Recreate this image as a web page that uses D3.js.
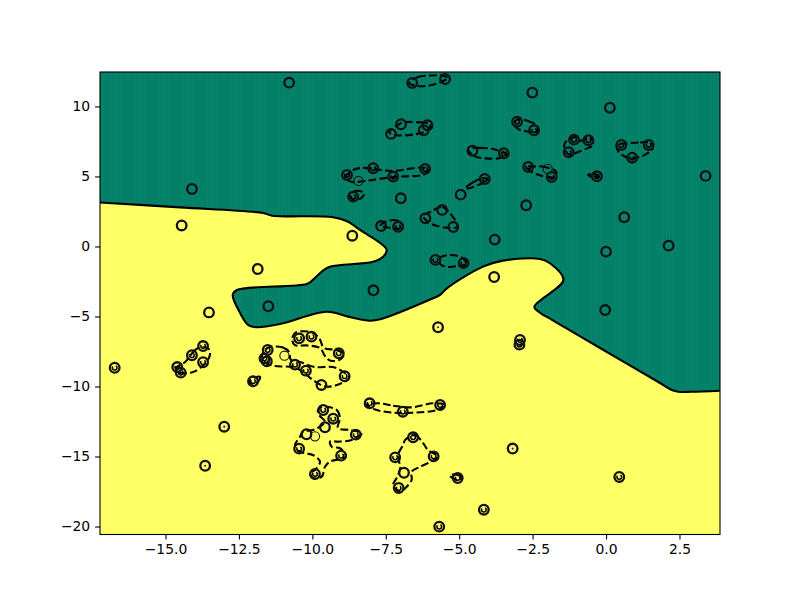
<!DOCTYPE html>
<html>
<head>
<meta charset="utf-8">
<script src="https://cdn.jsdelivr.net/npm/d3@7/dist/d3.min.js"></script>
<style>
    body { margin: 0; background: #fff; }
    text { font-family: "DejaVu Sans", sans-serif; }
</style>
</head>
<body>
<script>
// Axis ticks and limits
var xTicks = [-15, -12.5, -10, -7.5, -5, -2.5, 0, 2.5];
var xTickLabels = ["−15.0", "−12.5", "−10.0", "−7.5", "−5.0", "−2.5", "0.0", "2.5"];
var yTicks = [-20, -15, -10, -5, 0, 5, 10];
var yTickLabels = ["−20", "−15", "−10", "−5", "0", "5", "10"];
var xLimits = [-17.23, 3.88];
var yLimits = [-20.57, 12.46];

// Sample points with a heavy ring
var points = [
    [-10.79, 11.70], [-6.60, 11.68], [-5.48, 11.96], [-6.98, 8.73], [-6.08, 8.66], [-6.21, 8.30],
    [-7.32, 8.04], [-4.55, 6.84], [-8.82, 5.11], [-7.93, 5.59], [-7.25, 4.99], [-6.16, 5.54],
    [-4.13, 4.82], [-4.95, 3.70], [-8.61, 3.56], [-6.99, 3.44], [-5.58, 2.61], [-6.15, 2.01],
    [-5.20, 1.39], [-7.66, 1.46], [-7.08, 1.41], [-8.64, 0.77], [-2.51, 10.99], [0.13, 9.91],
    [-3.03, 8.91], [-2.45, 8.30], [-1.09, 7.63], [-0.60, 7.59], [-1.27, 6.73], [0.52, 7.25],
    [1.45, 7.25], [0.89, 6.34], [-3.48, 6.66], [-2.65, 5.68], [-1.85, 4.96], [-0.31, 5.01],
    [3.39, 5.04], [-2.72, 2.94], [0.62, 2.09], [-3.79, 0.49], [2.13, 0.06], [0.00, -0.37],
    [-14.10, 4.11], [-14.45, 1.50], [-5.81, -0.96], [-4.85, -1.18], [-11.86, -1.61], [-3.81, -2.18],
    [-7.92, -3.13], [-11.50, -4.27], [-0.03, -4.54], [-13.52, -4.71], [-5.72, -5.77], [-2.93, -6.68],
    [-2.95, -7.01], [-16.73, -8.66], [-14.60, -8.61], [-14.48, -9.01], [-14.10, -7.77], [-13.72, -7.11],
    [-13.72, -8.27], [-13.00, -12.87], [-13.65, -15.66], [-12.02, -9.63], [-11.52, -7.39], [-11.63, -7.99],
    [-11.55, -8.20], [-10.45, -6.56], [-10.03, -6.44], [-9.10, -7.63], [-10.59, -8.44], [-10.22, -8.87],
    [-8.90, -9.27], [-9.69, -9.89], [-9.63, -11.68], [-9.29, -12.30], [-9.57, -12.91], [-10.20, -13.41],
    [-8.52, -13.44], [-10.45, -14.44], [-9.02, -14.94], [-9.91, -16.25], [-8.05, -11.20], [-6.92, -11.80],
    [-5.65, -11.32], [-6.57, -13.63], [-7.18, -15.06], [-5.87, -14.99], [-6.88, -16.16], [-7.06, -17.25],
    [-5.05, -16.54], [-4.16, -18.80], [-5.68, -20.01], [-3.18, -14.43], [0.45, -16.46]
];

// Sample points with a light ring
var lightPoints = [[-8.43, 4.68], [-1.99, 5.54], [-10.95, -7.80], [-9.91, -13.56]];

// Points with a very small margin loop round them
var coreLoopPoints = [
    [-8.82, 5.11], [-7.93, 5.59], [-7.25, 4.99], [-6.16, 5.54], [-4.13, 4.82], [-8.61, 3.56],
    [-7.08, 1.41], [-3.03, 8.91], [-2.45, 8.30], [-1.09, 7.63], [-0.60, 7.59], [-1.27, 6.73],
    [0.52, 7.25], [1.45, 7.25], [0.89, 6.34], [-3.48, 6.66], [-2.65, 5.68], [-1.85, 4.96],
    [-0.31, 5.01], [-5.81, -0.96], [-4.85, -1.18], [-2.93, -6.68], [-2.95, -7.01], [-16.73, -8.66],
    [-14.60, -8.61], [-14.48, -9.01], [-14.10, -7.77], [-13.72, -7.11], [-13.72, -8.27], [-12.02, -9.63],
    [-11.52, -7.39], [-11.63, -7.99], [-11.55, -8.20], [-10.45, -6.56], [-10.03, -6.44], [-9.10, -7.63],
    [-10.59, -8.44], [-10.22, -8.87], [-8.90, -9.27], [-9.63, -11.68], [-9.29, -12.30], [-8.52, -13.44],
    [-10.45, -14.44], [-9.02, -14.94], [-9.91, -16.25], [-8.05, -11.20], [-6.92, -11.80], [-5.65, -11.32],
    [-6.57, -13.63], [-7.18, -15.06], [-5.87, -14.99], [-7.06, -17.25], [-5.05, -16.54], [-4.16, -18.80],
    [-5.68, -20.01], [0.45, -16.46]
];

// Points with only a dot left inside
var coreDotPoints = [[-13.00, -12.87], [-13.65, -15.66], [-5.72, -5.77], [-3.18, -14.43]];

// Decision boundary, left edge to right edge
var boundary = [
    [-17.23, 3.14], [-14.50, 2.79], [-11.68, 2.39], [-11.37, 2.20], [-9.30, 2.09], [-8.78, 1.77],
    [-8.38, 1.18], [-7.69, 0.25], [-7.47, -0.25], [-7.59, -0.73], [-7.93, -1.09], [-9.40, -1.44],
    [-9.64, -1.73], [-9.98, -2.39], [-10.19, -2.68], [-12.57, -3.11], [-12.71, -3.46], [-12.46, -4.75],
    [-12.18, -5.61], [-11.89, -5.77], [-11.10, -5.54], [-9.51, -4.66], [-8.78, -5.01], [-8.04, -5.30],
    [-7.69, -5.20], [-5.89, -3.70], [-5.65, -3.46], [-5.42, -2.99], [-4.19, -1.44], [-3.51, -1.01],
    [-2.25, -0.89], [-1.91, -1.20], [-1.45, -2.39], [-2.44, -4.30], [-2.25, -4.73], [-1.84, -5.24],
    [0.00, -7.50], [1.84, -9.75], [2.24, -10.25], [2.46, -10.37], [2.90, -10.38], [3.88, -10.30]
];

// Dashed margin contours, each one a closed loop
var marginLoops = [
    [[-6.71, 11.68], [-6.40, 12.11], [-5.99, 12.21], [-5.62, 12.21], [-5.38, 12.04], [-5.62, 11.75], [-5.99, 11.51], [-6.40, 11.46]],
    [[-6.91, 8.86], [-6.33, 8.86], [-5.99, 8.75], [-6.06, 8.32], [-6.54, 8.00], [-7.18, 7.96], [-7.39, 8.18], [-7.08, 8.68]],
    [[-8.61, 5.46], [-8.27, 5.61], [-7.76, 5.50], [-7.25, 5.39], [-6.33, 5.64], [-6.06, 5.54], [-6.16, 5.18], [-7.25, 4.96], [-8.21, 4.68], [-8.65, 4.61], [-8.89, 4.89]],
    [[-8.72, 3.61], [-8.55, 3.96], [-8.24, 3.82], [-8.31, 3.50], [-8.58, 3.32]],
    [[-7.49, 1.79], [-7.12, 1.86], [-6.91, 1.46], [-7.12, 1.25], [-7.42, 1.36], [-7.69, 1.46]],
    [[-5.99, 2.46], [-5.58, 2.82], [-5.35, 2.46], [-5.11, 1.75], [-5.07, 1.39], [-5.31, 1.32], [-5.75, 1.46], [-6.06, 1.75], [-6.23, 2.18]],
    [[-4.80, 4.14], [-4.56, 4.54], [-4.19, 4.89], [-4.02, 4.75], [-4.36, 4.39], [-4.63, 4.18]],
    [[-4.70, 6.96], [-4.29, 7.04], [-3.78, 6.93], [-3.37, 6.54], [-3.68, 6.29], [-4.12, 6.29], [-4.46, 6.43]],
    [[-3.03, 9.07], [-2.66, 8.96], [-2.32, 8.54], [-2.38, 8.18], [-2.76, 8.25], [-3.00, 8.39], [-3.13, 8.75]],
    [[-1.06, 7.82], [-0.89, 7.54], [-0.54, 7.82], [-0.44, 7.25], [-0.61, 7.04], [-0.95, 6.75], [-1.23, 6.54], [-1.40, 6.89], [-1.40, 7.39]],
    [[0.72, 7.36], [1.16, 7.43], [1.50, 7.39], [1.60, 7.04], [1.43, 6.68], [1.23, 6.46], [0.82, 6.29], [0.54, 6.54], [0.41, 6.82], [0.37, 7.25]],
    [[-2.49, 5.71], [-2.18, 5.71], [-1.70, 5.36], [-1.74, 4.96], [-2.18, 5.04], [-2.52, 5.32], [-2.72, 5.68]],
    [[-0.61, 5.11], [-0.41, 5.18], [-0.27, 5.04], [-0.41, 4.93]],
    [[-5.65, -0.82], [-5.31, -0.61], [-4.90, -0.82], [-4.73, -1.32], [-5.07, -1.39], [-5.41, -1.46], [-5.65, -1.25]],
    [[-14.33, -8.25], [-14.06, -7.54], [-13.89, -7.25], [-13.55, -7.27], [-13.48, -7.63], [-13.60, -8.25], [-14.03, -8.94], [-14.33, -9.06], [-14.57, -8.96], [-14.64, -8.68]],
    [[-11.95, -9.36], [-11.78, -9.32], [-11.85, -9.66], [-12.02, -9.82], [-12.16, -9.68]],
    [[-11.44, -7.18], [-11.00, -7.21], [-10.79, -7.54], [-10.73, -8.11], [-10.42, -8.25], [-9.91, -8.61], [-9.30, -8.61], [-8.95, -8.96], [-8.75, -9.39], [-9.16, -9.89], [-9.57, -10.00], [-9.98, -9.54], [-10.32, -8.96], [-10.66, -8.61], [-11.27, -8.54], [-11.64, -8.25], [-11.71, -7.75], [-11.61, -7.39]],
    [[-10.59, -6.18], [-10.04, -6.11], [-9.77, -6.54], [-9.60, -7.25], [-9.19, -7.39], [-8.92, -7.68], [-9.09, -8.11], [-9.40, -8.14], [-9.57, -7.82], [-9.74, -7.25], [-10.15, -7.07], [-10.59, -7.04], [-10.69, -6.68]],
    [[-9.64, -11.44], [-9.17, -11.68], [-9.06, -12.25], [-9.13, -12.96], [-8.72, -13.11], [-8.32, -13.34], [-8.66, -13.82], [-9.11, -13.94], [-9.40, -13.94], [-9.34, -14.30], [-9.06, -14.41], [-8.86, -15.01], [-9.40, -15.37], [-9.57, -15.73], [-9.68, -16.44], [-9.98, -16.54], [-10.08, -16.18], [-9.91, -15.96], [-9.74, -15.37], [-9.98, -14.89], [-10.25, -14.77], [-10.53, -14.54], [-10.59, -14.18], [-10.42, -13.59], [-10.32, -13.23], [-9.98, -13.11], [-9.74, -12.87], [-9.57, -12.51], [-9.77, -12.04], [-9.81, -11.68]],
    [[-7.76, -11.20], [-7.25, -11.37], [-6.62, -11.49], [-5.89, -11.20], [-5.45, -11.32], [-5.75, -11.68], [-6.62, -11.87], [-7.25, -11.87], [-7.80, -11.68], [-8.17, -11.32]],
    [[-6.84, -13.82], [-6.50, -13.46], [-6.23, -14.04], [-6.06, -14.54], [-5.72, -15.01], [-6.33, -15.73], [-6.62, -16.09], [-6.62, -16.68], [-6.79, -17.16], [-7.01, -17.51], [-7.25, -17.04], [-7.13, -16.54], [-7.01, -15.82], [-7.08, -14.89], [-6.91, -14.18]],
    [[-5.31, -16.32], [-5.04, -16.32], [-4.90, -16.54], [-5.07, -16.68], [-5.31, -16.39]]
];

// When page loads, draw the chart
window.onload = setChart;

function setChart(){
    var width = 800,
        height = 600;
    var margin = { top: 72, right: 80, bottom: 65.5, left: 100 };
    var plotLeft = margin.left,
        plotRight = width - margin.right,
        plotTop = margin.top,
        plotBottom = height - margin.bottom;

    var greenColor = "#027f67",
        yellowColor = "#ffff66";

    var svg = d3.select("body")
        .append("svg")
        .attr("width", width)
        .attr("height", height)
        .style("display", "block");

    var xScale = d3.scaleLinear().domain(xLimits).range([plotLeft, plotRight]);
    var yScale = d3.scaleLinear().domain(yLimits).range([plotBottom, plotTop]);

    var defs = svg.append("defs");

    defs.append("clipPath")
        .attr("id", "plotClip")
        .append("rect")
        .attr("x", plotLeft)
        .attr("y", plotTop)
        .attr("width", plotRight - plotLeft)
        .attr("height", plotBottom - plotTop);

    // Faint vertical stripes left by the filled contour grid
    var stripes = defs.append("pattern")
        .attr("id", "greenStripes")
        .attr("patternUnits", "userSpaceOnUse")
        .attr("width", 3)
        .attr("height", 3);
    stripes.append("rect").attr("width", 3).attr("height", 3).attr("fill", greenColor);
    stripes.append("rect").attr("width", 1).attr("height", 3).attr("fill", "#0a836c");

    var plot = svg.append("g").attr("clip-path", "url(#plotClip)");

    plot.append("rect")
        .attr("x", plotLeft)
        .attr("y", plotTop)
        .attr("width", plotRight - plotLeft)
        .attr("height", plotBottom - plotTop)
        .attr("fill", yellowColor);

    var boundaryLine = d3.line()
        .x(function(d){ return xScale(d[0]); })
        .y(function(d){ return yScale(d[1]); })
        .curve(d3.curveCatmullRom.alpha(0.5));

    var loopLine = d3.line()
        .x(function(d){ return xScale(d[0]); })
        .y(function(d){ return yScale(d[1]); })
        .curve(d3.curveCatmullRomClosed.alpha(0.5));

    // Green class sits above the boundary, closed along the top corners
    plot.append("path")
        .attr("d", boundaryLine(boundary) +
            "L" + plotRight + "," + plotTop +
            "L" + plotLeft + "," + plotTop + "Z")
        .attr("fill", "url(#greenStripes)");

    plot.append("path")
        .attr("d", boundaryLine(boundary))
        .attr("fill", "none")
        .attr("stroke", "#000")
        .attr("stroke-width", 2.1);

    plot.selectAll(".margin")
        .data(marginLoops)
        .enter()
        .append("path")
        .attr("class", "margin")
        .attr("d", loopLine)
        .attr("fill", "none")
        .attr("stroke", "#000")
        .attr("stroke-width", 2.1)
        .attr("stroke-dasharray", "7.7,3.3");

    plot.selectAll(".coreLoop")
        .data(coreLoopPoints)
        .enter()
        .append("circle")
        .attr("class", "coreLoop")
        .attr("cx", function(d){ return xScale(d[0]); })
        .attr("cy", function(d){ return yScale(d[1]); })
        .attr("r", 2.3)
        .attr("fill", "none")
        .attr("stroke", "#000")
        .attr("stroke-width", 1.5)
        .attr("stroke-dasharray", "7.7,3.3");

    plot.selectAll(".coreDot")
        .data(coreDotPoints)
        .enter()
        .append("circle")
        .attr("class", "coreDot")
        .attr("cx", function(d){ return xScale(d[0]); })
        .attr("cy", function(d){ return yScale(d[1]); })
        .attr("r", 1.1)
        .attr("fill", "#333");

    plot.selectAll(".point")
        .data(points)
        .enter()
        .append("circle")
        .attr("class", "point")
        .attr("cx", function(d){ return xScale(d[0]); })
        .attr("cy", function(d){ return yScale(d[1]); })
        .attr("r", 4.8)
        .attr("fill", "none")
        .attr("stroke", "#111")
        .attr("stroke-width", 2.3);

    plot.selectAll(".lightPoint")
        .data(lightPoints)
        .enter()
        .append("circle")
        .attr("class", "lightPoint")
        .attr("cx", function(d){ return xScale(d[0]); })
        .attr("cy", function(d){ return yScale(d[1]); })
        .attr("r", 4.6)
        .attr("fill", "none")
        .attr("stroke", "#111")
        .attr("stroke-width", 1.1);

    // Axes
    var xAxis = d3.axisBottom(xScale)
        .tickValues(xTicks)
        .tickFormat(function(d, i){ return xTickLabels[i]; })
        .tickSize(4.9)
        .tickPadding(4.9);
    var yAxis = d3.axisLeft(yScale)
        .tickValues(yTicks)
        .tickFormat(function(d, i){ return yTickLabels[i]; })
        .tickSize(4.9)
        .tickPadding(4.9);

    var xGroup = svg.append("g")
        .attr("transform", "translate(0," + plotBottom + ")")
        .call(xAxis);
    var yGroup = svg.append("g")
        .attr("transform", "translate(" + plotLeft + ",0)")
        .call(yAxis);

    [xGroup, yGroup].forEach(function(axis){
        axis.select(".domain").remove();
        axis.selectAll("line").attr("stroke", "#000").attr("stroke-width", 1.1);
        axis.selectAll("text")
            .attr("fill", "#000")
            .style("font-size", "13.9px");
    });

    // Frame on top of everything
    svg.append("rect")
        .attr("x", plotLeft)
        .attr("y", plotTop)
        .attr("width", plotRight - plotLeft)
        .attr("height", plotBottom - plotTop)
        .attr("fill", "none")
        .attr("stroke", "#000")
        .attr("stroke-width", 1.1);
}
</script>
</body>
</html>
